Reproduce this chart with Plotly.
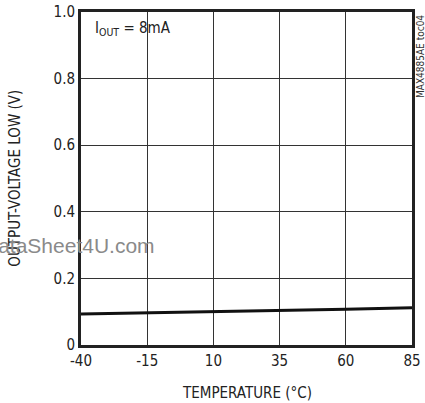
import plotly.graph_objects as go

temps = [-40, -15, 10, 35, 60, 85]
vol = [0.093, 0.096, 0.099, 0.103, 0.107, 0.112]
x_ticks = [-40, -15, 10, 35, 60, 85]
x_tick_labels = ["-40", "-15", "10", "35", "60", "85"]
y_ticks = [0, 0.2, 0.4, 0.6, 0.8, 1.0]
y_tick_labels = ["0", "0.2", "0.4", "0.6", "0.8", "1.0"]

FONT = "DejaVu Sans Condensed, Liberation Sans Narrow, Arial Narrow, Liberation Sans, sans-serif"

fig = go.Figure()
fig.add_trace(go.Scatter(x=temps, y=vol, mode="lines",
                         line=dict(color="#111", width=3), showlegend=False))

axis_common = dict(showgrid=True, gridcolor="#333", gridwidth=1,
                   showline=True, linecolor="#222", linewidth=3, mirror=True,
                   ticks="", zeroline=False, automargin=False,
                   tickfont=dict(family=FONT, size=15, color="#222"))

fig.update_layout(
    width=425, height=403,
    margin=dict(l=81, r=13, t=12, b=58),
    paper_bgcolor="white", plot_bgcolor="white",
    font=dict(family=FONT, color="#222"),
    xaxis=dict(range=[-40, 85], tickvals=x_ticks, ticktext=x_tick_labels, **axis_common),
    yaxis=dict(range=[0, 1.0], tickvals=y_ticks, ticktext=y_tick_labels, **axis_common),
)

fig.add_annotation(x=0.5, y=-0.145, xref="paper", yref="paper", xanchor="center", yanchor="middle",
                   text="TEMPERATURE (°C)", showarrow=False,
                   font=dict(family=FONT, size=15, color="#222"))
fig.add_annotation(x=-0.202, y=0.5, xref="paper", yref="paper", xanchor="center", yanchor="middle",
                   text="OUTPUT-VOLTAGE LOW (V)", textangle=-90, showarrow=False,
                   font=dict(family=FONT, size=15, color="#222"))
fig.add_annotation(x=0.035, y=0.985, xref="paper", yref="paper", xanchor="left", yanchor="top",
                   text="I<sub>OUT</sub> = 8mA", showarrow=False,
                   font=dict(family=FONT, size=15, color="#222"))
fig.add_annotation(x=1.0, y=1.0, xref="paper", yref="paper", xanchor="left", yanchor="top",
                   xshift=2, yshift=-2, text="MAX4885AE toc04", textangle=-90, showarrow=False,
                   borderpad=0,
                   font=dict(family=FONT, size=10, color="#333"))
# watermark (partially clipped at left edge)
fig.add_annotation(x=0.23, y=0.30, xref="paper", yref="paper", xanchor="right", yanchor="middle",
                   text="DataSheet4U.com", showarrow=False,
                   font=dict(family="Liberation Sans, Arial, sans-serif", size=21, color="#8a8a8a"))

fig.write_html("out.html", config={"displayModeBar": False},
               post_script="document.body.style.margin='0';document.body.style.overflow='hidden';")
